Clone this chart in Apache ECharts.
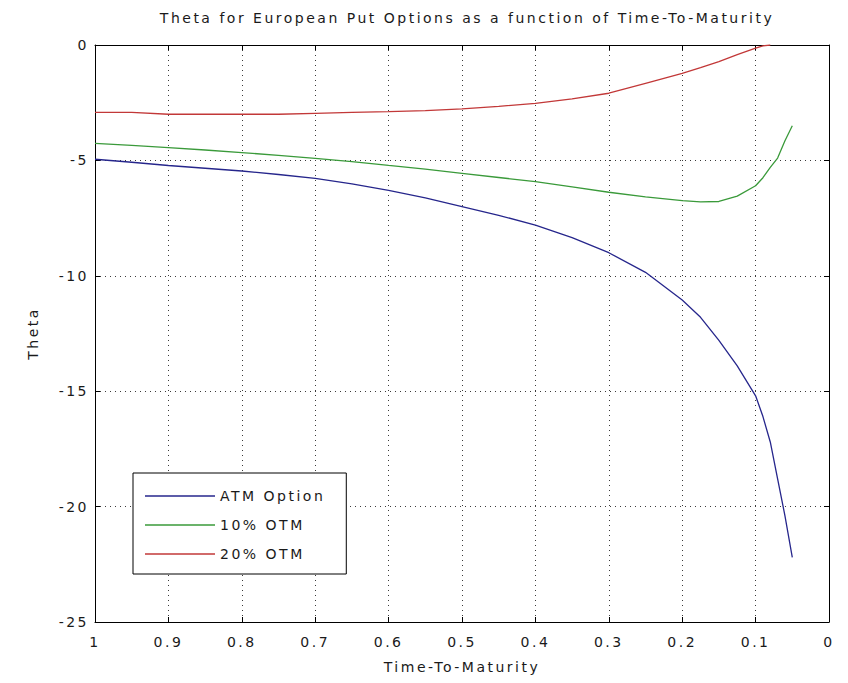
<!DOCTYPE html>
<html>
<head>
<meta charset="utf-8">
<script src="https://cdn.jsdelivr.net/npm/echarts@6/dist/echarts.min.js"></script>
<style>
  html, body { margin: 0; padding: 0; background: #fff; }
  #chart { width: 848px; height: 683px; }
  /* wide, loosely set lettering for every label of the figure */
  #chart svg text { letter-spacing: 2.5px; }
</style>
</head>
<body>
<div id="chart"></div>
<script>
// Time to maturity (years), shared by all three curves
const ttm = [1.00, 0.95, 0.90, 0.85, 0.80, 0.75, 0.70, 0.65, 0.60, 0.55, 0.50, 0.45, 0.40,
             0.35, 0.30, 0.25, 0.20, 0.175, 0.15, 0.125, 0.10, 0.09, 0.08, 0.07, 0.06, 0.05];

// Put theta for each moneyness
const atmTheta = [-4.95, -5.08, -5.22, -5.34, -5.46, -5.61, -5.78, -6.02, -6.30, -6.62, -7.00, -7.38, -7.80,
                  -8.35, -9.00, -9.85, -11.05, -11.8, -12.8, -13.9, -15.2, -16.1, -17.2, -18.8, -20.4, -22.2];
const otm10Theta = [-4.26, -4.35, -4.45, -4.55, -4.66, -4.78, -4.91, -5.05, -5.22, -5.38, -5.56, -5.74, -5.92,
                    -6.15, -6.38, -6.58, -6.74, -6.80, -6.78, -6.55, -6.10, -5.75, -5.30, -4.90, -4.15, -3.50];
const otm20Theta = [-2.92, -2.92, -3.00, -3.00, -3.00, -3.00, -2.96, -2.92, -2.89, -2.84, -2.77, -2.66, -2.53,
                    -2.33, -2.09, -1.66, -1.23, -0.98, -0.72, -0.42, -0.14, -0.04, 0.00, null, null, null];

const seriesNames = ['ATM Option', '10% OTM', '20% OTM'];
const seriesColors = ['#26268c', '#3a9a3a', '#c23838'];
const seriesValues = [atmTheta, otm10Theta, otm20Theta];

// Axis ticks
const xTicks = [1, 0.9, 0.8, 0.7, 0.6, 0.5, 0.4, 0.3, 0.2, 0.1, 0];
const yTicks = [0, -5, -10, -15, -20, -25];

const FONT = 'DejaVu Sans';
const TEXT = '#1a1a1a';
const gridLine = { show: true, lineStyle: { color: '#3a3a3a', width: 1, type: [1, 4] } };
const frameLine = { show: true, onZero: false, lineStyle: { color: '#000', width: 1 } };
const innerTick = { show: true, inside: true, length: 5, lineStyle: { color: '#000' } };

const xBase = {
  type: 'value', min: xTicks[xTicks.length - 1], max: xTicks[0], interval: 0.1, inverse: true
};
const yBase = {
  type: 'value', min: yTicks[yTicks.length - 1], max: yTicks[0], interval: 5
};

const chart = echarts.init(document.getElementById('chart'), null, { renderer: 'svg' });
chart.setOption({
  animation: false,
  backgroundColor: '#fff',
  textStyle: { fontFamily: FONT },
  title: {
    text: 'Theta for European Put Options as a function of Time-To-Maturity',
    left: 462, top: 6, textAlign: 'center',
    textStyle: { fontFamily: FONT, fontSize: 14, fontWeight: 'normal', color: TEXT }
  },
  grid: { left: 95, right: 19, top: 45, bottom: 61, containLabel: false },
  xAxis: [
    Object.assign({}, xBase, {
      position: 'bottom',
      name: 'Time-To-Maturity', nameLocation: 'middle', nameGap: 38,
      nameTextStyle: { fontFamily: FONT, fontSize: 14, color: TEXT },
      axisLine: frameLine, axisTick: innerTick, splitLine: gridLine,
      axisLabel: {
        margin: 13, fontFamily: FONT, fontSize: 14, color: TEXT,
        formatter: v => String(Number(v.toFixed(1)))
      }
    }),
    Object.assign({}, xBase, {
      position: 'top',
      axisLine: frameLine, axisTick: innerTick, splitLine: { show: false },
      axisLabel: { show: false }
    })
  ],
  yAxis: [
    Object.assign({}, yBase, {
      position: 'left',
      name: 'Theta', nameLocation: 'middle', nameGap: 55,
      nameTextStyle: { fontFamily: FONT, fontSize: 14, color: TEXT },
      axisLine: frameLine, axisTick: innerTick, splitLine: gridLine,
      axisLabel: { margin: 6, fontFamily: FONT, fontSize: 14, color: TEXT }
    }),
    Object.assign({}, yBase, {
      position: 'right',
      axisLine: frameLine, axisTick: innerTick, splitLine: { show: false },
      axisLabel: { show: false }
    })
  ],
  legend: {
    orient: 'vertical',
    left: 133, top: 473,
    backgroundColor: '#fff',
    borderColor: '#000', borderWidth: 1, borderRadius: 0,
    padding: [15, 46, 12, 12],
    itemWidth: 70, itemHeight: 1.5, itemGap: 13,
    textStyle: { fontFamily: FONT, fontSize: 14, lineHeight: 16, color: TEXT },
    data: seriesNames.map(n => ({ name: n, icon: 'rect' }))
  },
  series: seriesValues.map((vals, i) => ({
    name: seriesNames[i],
    type: 'line',
    xAxisIndex: 0, yAxisIndex: 0,
    symbol: 'none',
    clip: true,
    color: seriesColors[i],
    itemStyle: { color: seriesColors[i] },
    lineStyle: { color: seriesColors[i], width: 1.3 },
    data: ttm.map((t, j) => [t, vals[j]])
  }))
});
</script>
</body>
</html>
